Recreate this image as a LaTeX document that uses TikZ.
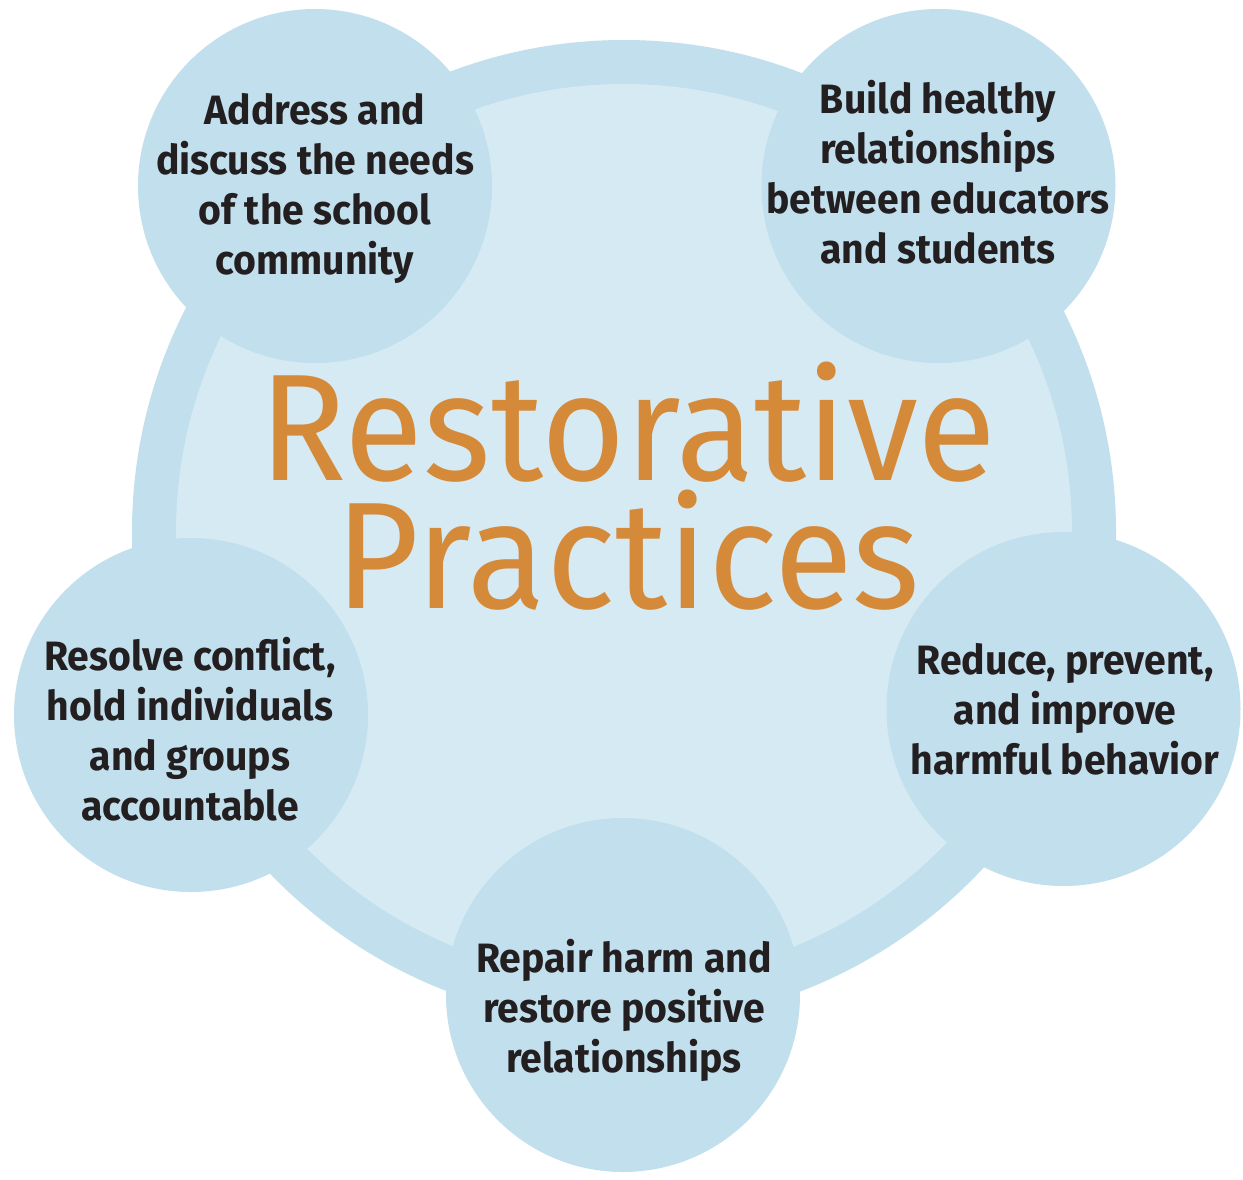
\documentclass[tikz,border=0pt]{standalone}
\usepackage{fontspec}
\setmainfont{Fira Sans}
\newfontfamily\titlefont{Fira Sans}[FakeStretch=0.95]
\newfontfamily\bodyfont{Fira Sans}[FakeStretch=0.955]
\definecolor{ringblue}{HTML}{C1DFEC}
\definecolor{innerblue}{HTML}{D5EAF3}
\definecolor{titleorange}{HTML}{D58A3A}
\definecolor{inkdark}{HTML}{231F20}
\tikzset{
  blob/.style={circle, fill=ringblue, draw=none, minimum size=354pt, inner sep=0pt},
  lbl/.style={align=center, text=inkdark, font=\bodyfont\bfseries\fontsize{41}{50}\selectfont, inner sep=0pt},
  ttl/.style={align=center, text=titleorange, font=\titlefont\fontsize{152}{128}\selectfont, inner sep=0pt}
}
\begin{document}
\begin{tikzpicture}[x=1pt,y=-1pt]
\useasboundingbox (0,0) rectangle (1243,1179);
\fill[white] (0,0) rectangle (1243,1179);
\node[circle, fill=ringblue, minimum size=984pt, inner sep=0pt] (outer) at (624,532) {};
\node[circle, fill=innerblue, minimum size=896pt, inner sep=0pt] (inner) at (outer.center) {};
\node[blob] (tl) at (315,186) {};
\node[blob] (tr) at (938.5,186) {};
\node[blob] (rt) at (1063.5,709) {};
\node[blob] (lf) at (191,715) {};
\node[blob] (bt) at (623,995) {};
\node[ttl, anchor=south] (title) at (628,611) {Restorative\\Practices};
\node[lbl] (ltl) at (315,188) {Address and\\discuss the needs\\of the school\\community};
\node[lbl] (ltr) at (938,172) {Build healthy\\relationships\\between educators\\and students};
\node[lbl] (lrt) at (1065,709) {Reduce, prevent,\\and improve\\harmful behavior};
\node[lbl] (llf) at (190,729) {Resolve conflict,\\hold individuals\\and groups\\accountable};
\node[lbl] (lbt) at (624,1010) {Repair harm and\\restore positive\\relationships};
\end{tikzpicture}
\end{document}
